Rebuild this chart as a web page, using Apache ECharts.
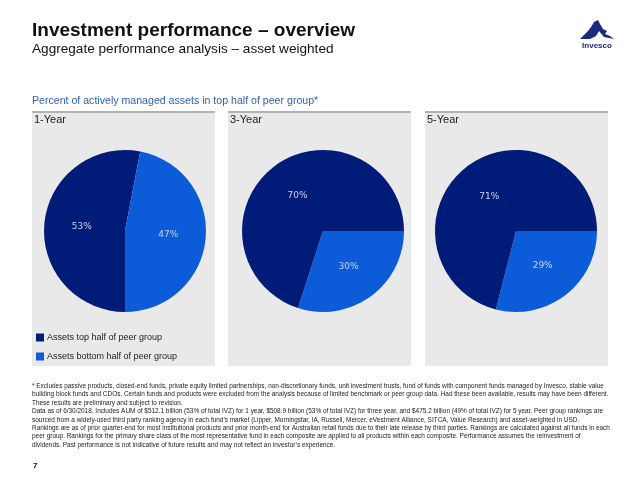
<!DOCTYPE html>
<html>
<head>
<meta charset="utf-8">
<script src="https://cdn.jsdelivr.net/npm/echarts@6/dist/echarts.min.js"></script>
<style>html,body{margin:0;padding:0;background:#fff}#c{width:640px;height:480px}</style>
</head>
<body>
<div id="c"></div>
<script>
// ---- data ----
const periods = ['1-Year', '3-Year', '5-Year'];
const seriesNames = ['Assets top half of peer group', 'Assets bottom half of peer group'];
const topHalf = [53, 70, 71];
const bottomHalf = [47, 30, 29];

const footnotes = [
  "* Excludes passive products, closed-end funds, private equity limited partnerships, non-discretionary funds, unit investment trusts, fund of funds with component funds managed by Invesco, stable value",
  "building block funds and CDOs. Certain funds and products were excluded from the analysis because of limited benchmark or peer group data. Had these been available, results may have been different.",
  "These results are preliminary and subject to revision.",
  "Data as of 6/30/2018. Includes AUM of $512.1 billion (53% of total IVZ) for 1 year, $508.9 billion (53% of total IVZ) for three year, and $475.2 billion (49% of total IVZ) for 5 year. Peer group rankings are",
  "sourced from a widely-used third party ranking agency in each fund\u2019s market (Lipper, Morningstar, IA, Russell, Mercer, eVestment Alliance, SITCA, Value Research) and asset-weighted in USD.",
  "Rankings are as of prior quarter-end for most institutional products and prior month-end for Australian retail funds due to their late release by third parties. Rankings are calculated against all funds in each",
  "peer group. Rankings for the primary share class of the most representative fund in each composite are applied to all products within each composite. Performance assumes the reinvestment of",
  "dividends. Past performance is not indicative of future results and may not reflect an investor\u2019s experience."
];

// ---- styling / layout ----
const DARK = '#011c78';
const LIGHT = '#0c5bd8';
const panelX = [32, 228, 425];
const panelW = 183;
const panelTop = 111;
const panelBottom = 366;
const pieCenters = [[125, 231], [323, 231], [516, 231]];
const startAngles = [-90, 0, 0];
const bottomFirst = [false, true, true];
const FONT = '"Liberation Sans", Arial, sans-serif';

const chart = echarts.init(document.getElementById('c'), null, {renderer: 'canvas'});

const graphics = [];
panelX.forEach((x, i) => {
  graphics.push({type: 'rect', z: -10, shape: {x: x, y: panelTop, width: panelW, height: panelBottom - panelTop}, style: {fill: '#e9e9e9'}});
  graphics.push({type: 'rect', z: -9, shape: {x: x, y: panelTop, width: panelW, height: 2}, style: {fill: '#b2b2b2'}});
  graphics.push({type: 'text', x: x + 2, y: 114, style: {text: periods[i], font: '11px ' + FONT, fill: '#222'}});
});
footnotes.forEach((t, i) => {
  graphics.push({type: 'text', x: 32, y: 383 + i * 8.45, style: {text: t, font: '6.45px "Liberation Sans Narrow", "Liberation Sans", Arial, sans-serif', fill: '#222'}});
});
graphics.push({type: 'text', x: 33, y: 462, style: {text: '7', font: 'bold 8px ' + FONT, fill: '#111'}});
// logo
graphics.push({type: 'polygon', shape: {points: [[580,39],[588,31],[591,27],[594,22],[598,20],[600,24],[603,29],[607,31],[605,34],[610,36],[614,39],[604,37],[599,31],[596,36],[590,39]]}, style: {fill: '#1b2a7c'}});
graphics.push({type: 'text', x: 597, y: 42, style: {text: 'Invesco', font: 'bold 8px ' + FONT, fill: '#1b2a7c', align: 'center'}});

const series = periods.map((p, i) => {
  const top = {name: seriesNames[0], value: topHalf[i], itemStyle: {color: DARK}};
  const bot = {name: seriesNames[1], value: bottomHalf[i], itemStyle: {color: LIGHT}};
  return {
    type: 'pie',
    name: p,
    center: pieCenters[i],
    radius: [0, 81],
    startAngle: startAngles[i],
    clockwise: true,
    data: bottomFirst[i] ? [bot, top] : [top, bot],
    label: {show: true, position: 'inside', formatter: '{c}%', color: '#c9d2f2', fontSize: 9, fontFamily: '"DejaVu Sans", sans-serif'},
    labelLine: {show: false},
    itemStyle: {borderWidth: 0},
    emphasis: {disabled: true},
    animation: false
  };
});

chart.setOption({
  animation: false,
  backgroundColor: '#ffffff',
  title: [
    {text: 'Investment performance \u2013 overview', left: 32, top: 21, padding: 0, textStyle: {fontFamily: FONT, fontWeight: 'bold', fontSize: 19, color: '#111'}},
    {text: 'Aggregate performance analysis \u2013 asset weighted', left: 32, top: 42, padding: 0, textStyle: {fontFamily: FONT, fontWeight: 'normal', fontSize: 13.6, color: '#111'}},
    {text: 'Percent of actively managed assets in top half of peer group*', left: 32, top: 95.5, padding: 0, textStyle: {fontFamily: FONT, fontWeight: 'normal', fontSize: 10.6, color: '#2e5fb8'}}
  ],
  legend: {
    orient: 'vertical', left: 36, top: 333, padding: 0,
    itemWidth: 8, itemHeight: 8, itemGap: 10,
    icon: 'rect',
    data: seriesNames,
    textStyle: {fontFamily: FONT, fontSize: 9, color: '#222', padding: [0, 0, 0, -2]},
    selectedMode: false
  },
  graphic: graphics,
  series: series
});
</script>
</body>
</html>
